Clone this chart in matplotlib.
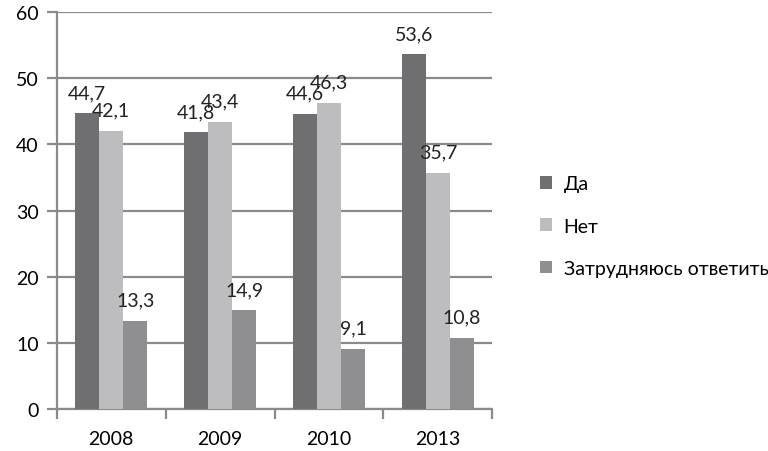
import matplotlib
matplotlib.use('Agg')
import matplotlib.pyplot as plt
import numpy as np

plt.rcParams['font.family'] = ['Lato', 'Open Sans', 'DejaVu Sans']

years = ['2008', '2009', '2010', '2013']
series_names = ['Да', 'Нет', 'Затрудняюсь ответить']
yes_vals = [44.7, 41.8, 44.6, 53.6]
no_vals = [42.1, 43.4, 46.3, 35.7]
unsure_vals = [13.3, 14.9, 9.1, 10.8]
colors = ['#6f6f71', '#bdbdbf', '#8f8f91']

fig = plt.figure(figsize=(7.68, 4.52), dpi=100)
ax = fig.add_axes([0.074, 0.093, 0.567, 0.878])

x = np.arange(len(years))
w = 0.22
grid_c = '#8a8a8a'

ax.set_ylim(0, 60)
ax.set_xlim(-0.5, len(years) - 0.5)
ax.set_yticks(range(0, 61, 10))
ax.yaxis.grid(True, color=grid_c, linewidth=1.6)
ax.set_axisbelow(True)

for j, (name, vals) in enumerate(zip(series_names, [yes_vals, no_vals, unsure_vals])):
    bars = ax.bar(x + (j - 1) * w, vals, w, color=colors[j], label=name, zorder=3)
    for b, v in zip(bars, vals):
        ax.annotate(f'{v:.1f}'.replace('.', ','),
                    (b.get_x() + b.get_width() / 2, v),
                    xytext=(0, 15), textcoords='offset points',
                    ha='center', va='center', fontsize=14, color='#222222', zorder=4)

ax.set_xticks(x)
ax.set_xticklabels(years, fontsize=14)
ax.set_xticks(np.arange(len(years) + 1) - 0.5, minor=True)
ax.tick_params(axis='x', which='major', length=0, pad=15)
ax.tick_params(axis='x', which='minor', length=7, color=grid_c, width=1.6)
ax.tick_params(axis='y', length=7, color=grid_c, width=1.6, labelsize=14, pad=6)

for s in ['top', 'right']:
    ax.spines[s].set_visible(False)
for s in ['left', 'bottom']:
    ax.spines[s].set_color(grid_c)
    ax.spines[s].set_linewidth(1.6)

ax.legend(loc='center left', bbox_to_anchor=(1.07, 0.461), frameon=False,
          fontsize=14, handlelength=0.6, handleheight=0.6, labelspacing=1.3,
          handletextpad=0.6)

plt.savefig('out.png', dpi=100, facecolor='white')
